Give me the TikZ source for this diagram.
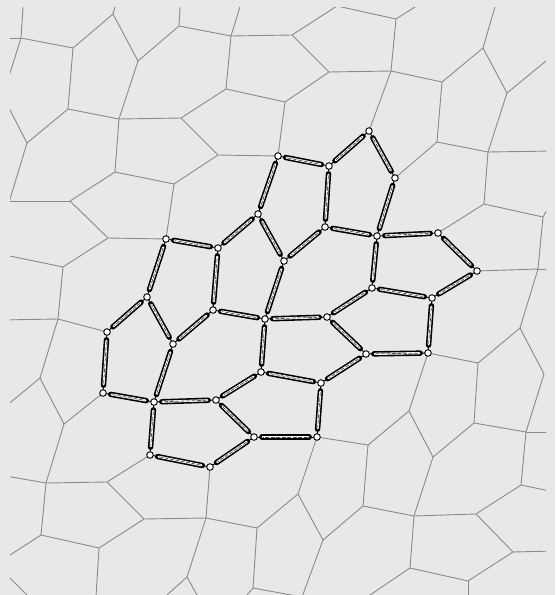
\documentclass[tikz,border=0pt]{standalone}
\begin{document}
\definecolor{bg}{RGB}{232,232,234}
\definecolor{edgegray}{RGB}{138,138,138}
\begin{tikzpicture}[x=1pt,y=-1pt,
  grayedge/.style={draw=edgegray, line width=0.9pt},
  thinlink/.style={draw=black, line width=0.9pt},
  capout/.style={draw=black, line width=5.4pt, line cap=round, shorten <=7.8pt, shorten >=7.8pt},
  capin/.style={draw=white, line width=2.2pt, line cap=round, shorten <=8.8pt, shorten >=8.8pt},
  capdash/.style={draw=black!70, line width=0.7pt, dash pattern=on 4pt off 1.5pt, shorten <=9.3pt, shorten >=9.3pt},
  vtx/.style={circle, draw=black, fill=white, line width=0.9pt, inner sep=0pt, minimum size=6.6pt}]
\fill[bg] (0,0) rectangle (555,595);
\useasboundingbox (0,0) rectangle (555,595);
% highlighted vertices
\coordinate (V1) at (278,156);
\coordinate (V2) at (329,166);
\coordinate (V3) at (369,131);
\coordinate (V4) at (395,178);
\coordinate (V5) at (258,214);
\coordinate (V6) at (325,227);
\coordinate (V7) at (377,236);
\coordinate (V8) at (438,233);
\coordinate (V9) at (477,271);
\coordinate (V10) at (166,239);
\coordinate (V11) at (218,248);
\coordinate (V12) at (284,261);
\coordinate (V13) at (147,297);
\coordinate (V14) at (213,310);
\coordinate (V15) at (265,319);
\coordinate (V16) at (327,317);
\coordinate (V17) at (372,288);
\coordinate (V18) at (432,298);
\coordinate (V19) at (107,332);
\coordinate (V20) at (173,344);
\coordinate (V21) at (366,354);
\coordinate (V22) at (428,353);
\coordinate (V23) at (103,393);
\coordinate (V24) at (154,402);
\coordinate (V25) at (216,400);
\coordinate (V26) at (261,372);
\coordinate (V27) at (321,383);
\coordinate (V28) at (150,455);
\coordinate (V29) at (210,467);
\coordinate (V30) at (254,437);
\coordinate (V31) at (317,437);
% gray vertices
\coordinate (A1) at (21,38);
\coordinate (A2) at (73,48);
\coordinate (A3) at (113,14);
\coordinate (A4) at (138,61);
\coordinate (A5) at (179,26);
\coordinate (A6) at (231,36);
\coordinate (A7) at (226,89);
\coordinate (A8) at (68,109);
\coordinate (A9) at (119,119);
\coordinate (A10) at (181,118);
\coordinate (A11) at (218,155);
\coordinate (A12) at (27,143);
\coordinate (A13) at (115,172);
\coordinate (A14) at (174,184);
\coordinate (A15) at (70,201);
\coordinate (A16) at (108,238);
\coordinate (A17) at (63,267);
\coordinate (B1) at (292,35);
\coordinate (B2) at (337,6);
\coordinate (B3) at (396,19);
\coordinate (B4) at (329,72);
\coordinate (B5) at (391,71);
\coordinate (B6) at (285,102);
\coordinate (B7) at (442,82);
\coordinate (B8) at (483,48);
\coordinate (B9) at (507,93);
\coordinate (B10) at (437,142);
\coordinate (B11) at (488,152);
\coordinate (B12) at (484,204);
\coordinate (B13) at (543,217);
\coordinate (B14) at (538,269);
\coordinate (C1) at (58,319);
\coordinate (C2) at (40,378);
\coordinate (C3) at (64,424);
\coordinate (C4) at (46,483);
\coordinate (C5) at (107,482);
\coordinate (C6) at (144,519);
\coordinate (C7) at (206,518);
\coordinate (C8) at (41,535);
\coordinate (C9) at (99,548);
\coordinate (C10) at (187,577);
\coordinate (C11) at (257,528);
\coordinate (C12) at (253,588);
\coordinate (D2) at (478,363);
\coordinate (D3) at (520,328);
\coordinate (D4) at (544,374);
\coordinate (D5) at (526,432);
\coordinate (D6) at (474,423);
\coordinate (D7) at (409,411);
\coordinate (D8) at (433,457);
\coordinate (D9) at (368,445);
\coordinate (D11) at (298,494);
\coordinate (D12) at (323,540);
\coordinate (D13) at (363,506);
\coordinate (D14) at (414,516);
\coordinate (D15) at (476,514);
\coordinate (D16) at (521,485);
\coordinate (D17) at (513,552);
\coordinate (D18) at (410,568);
\coordinate (D19) at (468,581);
\coordinate (E1) at (302,597);
% outer ends (clipped)
\coordinate (o1) at (23.5,0);
\coordinate (o2) at (0,38);
\coordinate (o3) at (0,105);
\coordinate (o4) at (117,0);
\coordinate (o5) at (180.4,0);
\coordinate (o6) at (242,0);
\coordinate (o7) at (0,90.6);
\coordinate (o8) at (0,232);
\coordinate (o9) at (0,201);
\coordinate (o10) at (0,254);
\coordinate (o11) at (426,0);
\coordinate (o12) at (497,0);
\coordinate (o13) at (555,53.6);
\coordinate (o14) at (555,151);
\coordinate (o15) at (555,196);
\coordinate (o16) at (555,269);
\coordinate (o17) at (555,432);
\coordinate (o18) at (555,492);
\coordinate (o19) at (555,551);
\coordinate (o20) at (362.6,600);
\coordinate (o21) at (468,600);
\coordinate (o22) at (0,320);
\coordinate (o23) at (0,411);
\coordinate (o24) at (0,475);
\coordinate (o25) at (0,561.5);
\coordinate (o26) at (95.8,600);
\coordinate (o27) at (161.4,600);
\coordinate (o28) at (199.8,600);
\coordinate (o29) at (242.7,600);
\coordinate (o30) at (0,568);
\coordinate (o31) at (35,603);
\begin{scope}
\clip (10,7) rectangle (546,595);
\foreach \a/\b in {A1/o1, A1/o2, A1/o3, A1/A2, A2/A3, A2/A8, A3/o4, A3/A4, A4/A5, A4/A9,
  A5/o5, A5/A6, A6/o6, A6/B1, A6/A7, A7/B6, A7/A10, A8/A9, A8/A12, A9/A10, A9/A13,
  A10/A11, A11/V1, A11/A14, A12/o7, A12/o8, A13/A14, A13/A15, A14/V10, A15/o9,
  A15/A16, A16/V10, A16/A17, A17/o10, A17/C1,
  B1/B2, B1/B4, B2/B3, B3/o11, B3/B5, B4/B5, B4/B6, B5/V3, B5/B7, B6/V1, B7/B8,
  B7/B10, B8/o12, B8/B9, B9/o13, B9/B11, B10/B11, B10/V4, B11/o14, B11/B12,
  B12/B13, B12/V8, B13/o15, B13/B14, B14/V9, B14/o16, B14/D3,
  D3/D4, D3/D2, D4/D5, D2/V22, D2/D6, D5/D6, D5/o17, D5/D16, D6/D8, D7/V22,
  D7/D8, D7/D9, D8/D14, D9/V31, D9/D13, V31/D11, D11/C11, D11/D12, D12/D13,
  D12/E1, D13/D14, D14/D15, D14/D18, D15/D16, D15/D17, D16/o18, D17/o19,
  D17/D19, D18/D19, D18/o20, D19/o21,
  C1/o22, C1/V19, C1/C2, C2/o23, C2/C3, C3/V23, C3/C4, C4/o24, C4/C5, C4/C8,
  C5/V28, C5/C6, C6/C7, C6/C9, C7/V29, C7/C11, C7/C10, C8/o25, C8/C9, C9/o26,
  C10/o27, C10/o28, C11/C12, C12/E1, C12/o29, o30/o31}
  \draw[grayedge] (\a) -- (\b);
\end{scope}
% highlighted edges
\foreach \a/\b in {V1/V2, V2/V3, V3/V4, V4/V7, V2/V6, V6/V7, V1/V5, V5/V12, V5/V11,
  V6/V12, V7/V8, V8/V9, V9/V18, V7/V17, V17/V18, V17/V16, V18/V22, V16/V15,
  V16/V21, V21/V22, V21/V27, V12/V15, V15/V14, V15/V26, V26/V27, V27/V31,
  V31/V30, V26/V25, V30/V29, V25/V30, V25/V24, V24/V20, V24/V28, V28/V29,
  V20/V14, V20/V13, V14/V11, V11/V10, V10/V13, V13/V19, V19/V23, V23/V24}
{
  \draw[thinlink] (\a) -- (\b);
  \draw[capout] (\a) -- (\b);
  \draw[capin] (\a) -- (\b);
  \draw[capdash] (\a) -- (\b);
}
\foreach \v in {1,...,31}
  \node[vtx] (n\v) at (V\v) {};
\end{tikzpicture}
\end{document}
